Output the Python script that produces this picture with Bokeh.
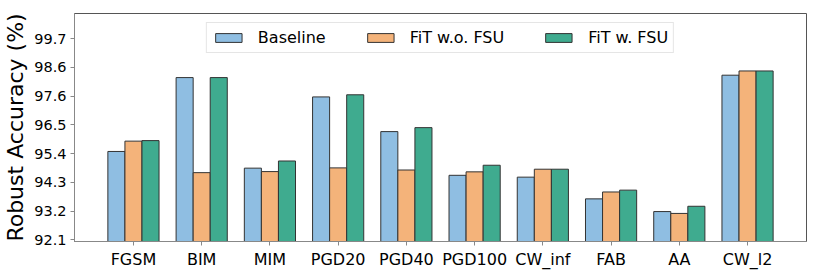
import numpy as np
from bokeh.plotting import figure
from bokeh.models import Range1d, FixedTicker, Legend, LegendItem
from bokeh.embed import file_html
from bokeh.resources import INLINE

categories = ["FGSM", "BIM", "MIM", "PGD20", "PGD40", "PGD100", "CW_inf", "FAB", "AA", "CW_l2"]
baseline = [95.44, 98.23, 94.81, 97.50, 96.19, 94.54, 94.47, 93.65, 93.17, 98.32]
fit_wo_fsu = [95.83, 94.64, 94.68, 94.82, 94.74, 94.67, 94.77, 93.91, 93.10, 98.48]
fit_w_fsu = [95.85, 98.23, 95.08, 97.58, 96.34, 94.92, 94.77, 93.98, 93.37, 98.48]
series_names = ["Baseline", "FiT w.o. FSU", "FiT w. FSU"]
y_tick_labels = ["92.1", "93.2", "94.3", "95.4", "96.5", "97.6", "98.6", "99.7"]
y_label = "Robust Accuracy (%)"

colors = ["#8fbee2", "#f4b37a", "#3fab8f"]
FONT = "DejaVu Sans"

y_start, y_end = 92.04, 100.65
p = figure(width=814, height=271, output_backend="svg", toolbar_location=None,
           x_range=Range1d(-0.864, 9.864), y_range=Range1d(y_start, y_end),
           min_border_left=73, min_border_right=8, min_border_top=13, min_border_bottom=28)

x = np.arange(len(categories))
width = 0.25
offsets = [-width, 0.0, width]
renderers = []
for vals, off, col in zip([baseline, fit_wo_fsu, fit_w_fsu], offsets, colors):
    r = p.vbar(x=x + off, top=vals, bottom=y_start - 1, width=width,
               fill_color=col, line_color="#333333", line_width=1)
    renderers.append(r)

legend = Legend(items=[LegendItem(label=n, renderers=[r]) for n, r in zip(series_names, renderers)],
                orientation="horizontal", location="top_center")
legend.glyph_width = 33
legend.glyph_height = 11
legend.label_standoff = 13
legend.spacing = 38
legend.padding = 5
legend.margin = 9
legend.label_text_font = FONT
legend.label_text_font_size = "16px"
legend.label_text_color = "black"
legend.label_height = 14
legend.border_line_color = "#cccccc"
legend.border_line_width = 1
legend.background_fill_alpha = 0.8
p.add_layout(legend)

p.grid.visible = False
p.outline_line_color = "#555555"
p.outline_line_width = 1

p.xaxis.ticker = FixedTicker(ticks=list(x))
p.xaxis.major_label_overrides = {int(i): c for i, c in zip(x, categories)}
yt = np.linspace(92.1, 99.7, len(y_tick_labels))
p.yaxis.ticker = FixedTicker(ticks=list(yt))
p.yaxis.major_label_overrides = {float(t): l for t, l in zip(yt, y_tick_labels)}

for ax in (p.xaxis[0], p.yaxis[0]):
    ax.axis_line_color = "#888888"
    ax.major_tick_line_color = "#888888"
    ax.major_tick_out = 4
    ax.major_tick_in = 0
    ax.minor_tick_line_color = None
    ax.major_label_text_font = FONT
    ax.major_label_text_color = "black"
    ax.major_label_standoff = 4

p.xaxis.major_label_text_font_size = "16px"
p.yaxis.major_label_text_font_size = "14.5px"
p.yaxis.axis_label = y_label
p.yaxis.axis_label_text_font = FONT
p.yaxis.axis_label_text_font_size = "22px"
p.yaxis.axis_label_text_font_style = "normal"
p.yaxis.axis_label_text_color = "black"
p.yaxis.axis_label_standoff = 3

open("out.html", "w").write(file_html(p, INLINE))
